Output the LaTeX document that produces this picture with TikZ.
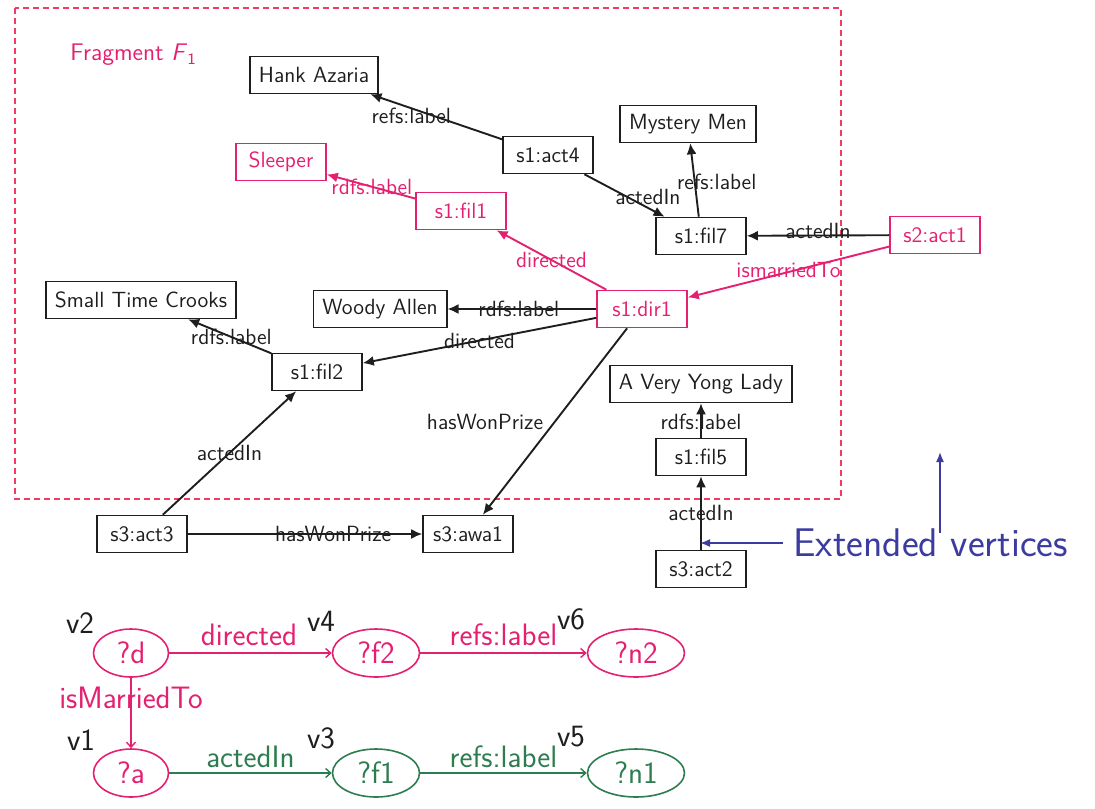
\documentclass[tikz,border=0pt]{standalone}
\usepackage{fontspec}
\usetikzlibrary{arrows.meta,shapes.geometric}

\definecolor{fragpink}{RGB}{228,32,112}
\definecolor{dashred}{RGB}{240,60,100}
\definecolor{qgreen}{RGB}{45,125,80}
\definecolor{noteblue}{RGB}{60,60,160}
\definecolor{ink}{RGB}{30,30,30}

\begin{document}
\begin{tikzpicture}[x=0.5pt,y=-0.5pt,font=\sffamily,
  res/.style={draw=ink,line width=0.8pt,text=ink,minimum width=45pt,
    minimum height=18.5pt,inner xsep=4.5pt,inner ysep=0pt,
    font=\sffamily\fontsize{11}{13}\selectfont},
  hlres/.style={res,draw=fragpink,text=fragpink},
  rel/.style={draw=ink,line width=0.95pt,-{Latex[length=5.5pt,width=5pt]}},
  hlrel/.style={rel,draw=fragpink},
  lbl/.style={font=\sffamily\fontsize{11}{13}\selectfont,text=ink,inner sep=1pt},
  hllbl/.style={lbl,text=fragpink},
  var/.style={ellipse,draw=fragpink,text=fragpink,line width=0.8pt,
    minimum height=24pt,inner sep=0pt,font=\sffamily\fontsize{15.5}{18}\selectfont},
  gvar/.style={var,draw=qgreen,text=qgreen},
  qrel/.style={draw=fragpink,line width=0.7pt,-{Straight Barb[length=2.5pt,width=4.5pt]}},
  gqrel/.style={qrel,draw=qgreen},
  qlbl/.style={font=\sffamily\fontsize{15.5}{18}\selectfont,text=fragpink,inner sep=1pt},
  gqlbl/.style={qlbl,text=qgreen},
  vname/.style={font=\sffamily\fontsize{15.5}{18}\selectfont,text=ink,inner sep=0pt},
  note/.style={draw=noteblue,line width=0.8pt,-{Latex[length=5pt,width=4pt]}}
]
\useasboundingbox (0,0) rectangle (1095,808);

% fragment frame
\draw[dashred,line width=0.8pt,dash pattern=on 3pt off 2pt] (15,8) rectangle (841,499);
\node[anchor=west,text=fragpink,inner sep=0pt,font=\sffamily\fontsize{12}{14}\selectfont]
  (fragname) at (70,55) {Fragment \textsl{F}\textsubscript{1}};

% data graph
\node[res]   (hank)    at (314,75)  {Hank Azaria};
\node[res]   (act4)    at (548,155) {s1:act4};
\node[res]   (mystery) at (688,124) {Mystery Men};
\node[hlres] (sleeper) at (281,162) {Sleeper};
\node[hlres] (fil1)    at (461,211) {s1:fil1};
\node[res]   (fil7)    at (701,236) {s1:fil7};
\node[hlres] (act1)    at (935,235) {s2:act1};
\node[hlres] (dir1)    at (642,309) {s1:dir1};
\node[res]   (stc)     at (141,300) {Small Time Crooks};
\node[res]   (woody)   at (380,309) {Woody Allen};
\node[res]   (fil2)    at (317,372) {s1:fil2};
\node[res]   (avyl)    at (701,384) {A Very Yong Lady};
\node[res]   (fil5)    at (701,457) {s1:fil5};
\node[res]   (act3)    at (142,534) {s3:act3};
\node[res]   (awa1)    at (468,534) {s3:awa1};
\node[res]   (act2)    at (701,569) {s3:act2};

\draw[rel]   (act4) -- node[lbl,pos=0.69,yshift=-4pt] (e1) {refs:label} (hank);
\draw[hlrel] (fil1) -- node[hllbl,pos=0.49] (e2) {rdfs:label} (sleeper);
\draw[rel]   (act4) -- node[lbl,pos=0.53,xshift=10.5pt] (e3) {actedIn} (fil7);
\draw[rel]   (fil7) -- node[lbl,pos=0.48,xshift=11pt] (e4) {refs:label} (mystery);
\draw[rel]   (act1) -- node[lbl,pos=0.5,yshift=2.5pt] (e5) {actedIn} (fil7);
\draw[hlrel] (dir1) -- node[hllbl,pos=0.5] (e6) {directed} (fil1);
\draw[hlrel] (act1) -- node[hllbl,pos=0.5,yshift=1pt] (e7) {ismarriedTo} (dir1);
\draw[rel]   (dir1) -- node[lbl,pos=0.52] (e8) {rdfs:label} (woody);
\draw[rel]   (dir1) -- node[lbl,pos=0.5] (e9) {directed} (fil2);
\draw[rel]   (fil2) -- node[lbl,pos=0.48] (e10) {rdfs:label} (stc);
\draw[rel]   (dir1) -- node[lbl,pos=0.5,anchor=east,xshift=-4.5pt] (e11) {hasWonPrize} (awa1);
\draw[rel]   (fil5) -- node[lbl,pos=0.47] (e12) {rdfs:label} (avyl);
\draw[rel]   (act3) -- node[lbl,pos=0.5] (e13) {actedIn} (fil2);
\draw[rel]   (act3) -- node[lbl,pos=0.62] (e14) {hasWonPrize} (awa1);
\draw[rel]   (act2) -- node[lbl,pos=0.5] (e15) {actedIn} (fil5);

% annotation
\node[anchor=west,text=noteblue,inner sep=0pt,font=\sffamily\fontsize{20}{24}\selectfont]
  (ext) at (793,543) {Extended vertices};
\coordinate (tipA) at (700,543);
\coordinate (tipB) at (940,452);
\draw[note] (ext.west) ++(-5pt,0) -- (ext.west -| tipA);
\draw[note] (ext.north -| tipB) ++(0,-2pt) -- (tipB);

% query graph
\node[var,minimum width=37.5pt]  (qd)  at (131,653) {?d};
\node[var,minimum width=43.5pt]  (qf2) at (376,653) {?f2};
\node[var,minimum width=48.5pt]  (qn2) at (636,653) {?n2};
\node[var,minimum width=37.5pt]  (qa)  at (131,773) {?a};
\node[gvar,minimum width=43.5pt] (qf1) at (376,773) {?f1};
\node[gvar,minimum width=48.5pt] (qn1) at (636,773) {?n1};

\node[vname] (v2) at (80,623)  {v2};
\node[vname] (v4) at (321,621) {v4};
\node[vname] (v6) at (571,619) {v6};
\node[vname] (v1) at (81,740)  {v1};
\node[vname] (v3) at (321,738) {v3};
\node[vname] (v5) at (571,737) {v5};

\draw[qrel]  (qd)  -- node[qlbl,pos=0.49,yshift=9pt] (q1) {directed} (qf2);
\draw[qrel]  (qf2) -- node[qlbl,pos=0.5,yshift=9pt] (q2) {refs:label} (qn2);
\draw[qrel]  (qd)  -- node[qlbl,pos=0.28] (q3) {isMarriedTo} (qa);
\draw[gqrel] (qa)  -- node[gqlbl,pos=0.5,yshift=8pt] (q4) {actedIn} (qf1);
\draw[gqrel] (qf1) -- node[gqlbl,pos=0.5,yshift=8pt] (q5) {refs:label} (qn1);
\end{tikzpicture}
\end{document}
